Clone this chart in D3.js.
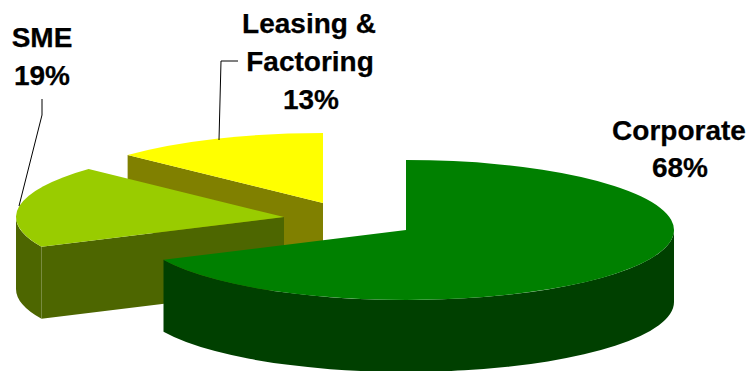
<!DOCTYPE html>
<html>
<head>
<meta charset="utf-8">
<script src="https://cdn.jsdelivr.net/npm/d3@7"></script>
<style>
  html, body { margin: 0; padding: 0; background: #fff; }
  svg { display: block; }
  text { font-family: "Liberation Sans", Arial, sans-serif; font-weight: bold; font-size: 28px; fill: #000; stroke: #000; stroke-width: 0.25px; text-anchor: middle; }
</style>
</head>
<body>
<svg id="chart" width="751" height="371"></svg>
<script>
// Portfolio split, listed clockwise from twelve o'clock
const categories = ["Corporate", "SME", "Leasing & Factoring"];
const shares = [68, 19, 13];

// Colours of each slice: top face and the darker side wall
const topColors = ["#008000", "#99cc00", "#ffff00"];
const wallColors = ["#004000", "#4d6600", "#808000"];

// Pull-out position of each slice's apex on the page
const apexes = [[406, 230], [284, 217], [323, 203]];

// Label lines with their centres, plus leader polylines
const labelLines = [
  [["Corporate", 679, 140], ["68%", 680, 177]],
  [["SME", 42, 47], ["19%", 42, 85]],
  [["Leasing &", 309, 33], ["Factoring", 310, 71], ["13%", 311, 109]]
];
const leaders = [
  null,
  [[42, 99], [42, 115], [19, 206]],
  [[238, 61], [221, 61], [219, 140]]
];

// Ellipse of the tilted disc and the height of its wall
const rx = 268, ry = 70, depth = 72;

const svg = d3.select("#chart");
const pie = d3.pie().sort(null).value(d => d);
const slices = pie(shares);

const px = (a) => rx * Math.sin(a);
const py = (a) => -ry * Math.cos(a);

// Arc segment between two angles, with the pen already at the first one
const ellipseTo = (a0, a1, dy, cx, cy) => {
  const sweep = a1 > a0 ? 1 : 0;
  const large = Math.abs(a1 - a0) > Math.PI ? 1 : 0;
  return `A${rx},${ry} 0 ${large} ${sweep} ${cx + px(a1)},${cy + py(a1) + dy}`;
};

// Visible stretch of the rim: only the near half of the ellipse (90deg to 270deg) faces the viewer
const rimPath = (s, cx, cy) => {
  const a0 = Math.max(s.startAngle, Math.PI / 2);
  const a1 = Math.min(s.endAngle, Math.PI * 1.5);
  if (a1 <= a0) return null;
  return `M${cx + px(a0)},${cy + py(a0)}` + ellipseTo(a0, a1, 0, cx, cy) +
         `L${cx + px(a1)},${cy + py(a1) + depth}` + ellipseTo(a1, a0, depth, cx, cy) + "Z";
};

// Radial cut wall, from apex to rim at the given angle
const cutPath = (a, cx, cy) =>
  `M${cx},${cy}L${cx + px(a)},${cy + py(a)}L${cx + px(a)},${cy + py(a) + depth}L${cx},${cy + depth}Z`;

const topPath = (s, cx, cy) =>
  `M${cx},${cy}L${cx + px(s.startAngle)},${cy + py(s.startAngle)}` +
  ellipseTo(s.startAngle, s.endAngle, 0, cx, cy) + "Z";

// Back to front: Leasing, then SME, then Corporate
[2, 1, 0].forEach(i => {
  const s = slices[i];
  const [cx, cy] = apexes[i];
  const g = svg.append("g").attr("class", "slice").attr("data-name", categories[i]);

  // The cut at a slice's start faces the viewer on the left half of the disc, the cut at its end on the right half
  if (Math.sin(s.startAngle) < -1e-6) {
    g.append("path").attr("d", cutPath(s.startAngle, cx, cy)).attr("fill", wallColors[i]);
  }
  if (Math.sin(s.endAngle) > 1e-6) {
    g.append("path").attr("d", cutPath(s.endAngle, cx, cy)).attr("fill", wallColors[i]);
  }
  const rim = rimPath(s, cx, cy);
  if (rim) g.append("path").attr("d", rim).attr("fill", wallColors[i]);
  g.append("path").attr("d", topPath(s, cx, cy)).attr("fill", topColors[i]);
});

// Leader lines
const line = d3.line();
leaders.forEach(pts => {
  if (pts) svg.append("path").attr("d", line(pts)).attr("fill", "none").attr("stroke", "#000").attr("stroke-width", 1);
});

// Labels
labelLines.forEach(lines => {
  lines.forEach(([t, x, y]) => {
    svg.append("text").attr("x", x).attr("y", y).text(t);
  });
});
</script>
</body>
</html>
